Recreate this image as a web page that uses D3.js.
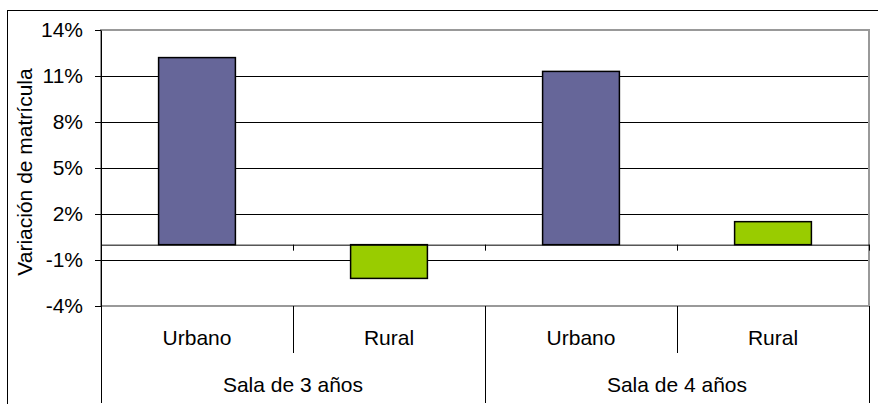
<!DOCTYPE html>
<html>
<head>
<meta charset="utf-8">
<script src="https://cdn.jsdelivr.net/npm/d3@7"></script>
<style>
  body { margin: 0; background: #fff; }
  svg { display: block; font-family: Arial, "Liberation Sans", sans-serif; }
</style>
</head>
<body>
<svg id="chart"></svg>
<script>
// data (values in %)
const groups = ["Sala de 3 años", "Sala de 4 años"];
const areas = ["Urbano", "Rural"];
const urbano = [12.2, 11.3];
const rural = [-2.2, 1.5];
const yTicks = [-4, -1, 2, 5, 8, 11, 14];
const yTitle = "Variación de matrícula";

(function () {
    const W = 878, H = 404;
    const PLOT = { left: 101, right: 869, top: 30, bottom: 306 };
    const CAT_MID = 353;   // short dividers (Urbano | Rural)
    const CAT_END = 403;   // long dividers (groups)
    const FONT = 21;
    const COLORS = { Urbano: '#666699', Rural: '#99cc00' };

    const svg = d3.select('#chart').attr('width', W).attr('height', H);

    // outer chart frame (runs off the right/bottom edge)
    svg.append('rect')
        .attr('x', 7.5).attr('y', 10.5)
        .attr('width', 880).attr('height', 410)
        .attr('fill', '#fff').attr('stroke', '#000').attr('stroke-width', 1);

    const rows = groups.flatMap((g, i) => [
        { group: g, area: areas[0], value: urbano[i] },
        { group: g, area: areas[1], value: rural[i] }
    ]);
    const keyOf = d => d.group + '|' + d.area;

    const y = d3.scaleLinear().domain([-4, 14]).range([PLOT.bottom, PLOT.top]);
    const slot = d3.scaleBand().domain(rows.map(keyOf)).range([PLOT.left, PLOT.right]);
    const x = d3.scaleBand().domain(rows.map(keyOf)).range([PLOT.left, PLOT.right])
        .paddingInner(0.6).paddingOuter(0.3);
    const g = d3.scaleBand().domain(groups).range([PLOT.left, PLOT.right]);
    const edge = d3.scaleLinear().domain([0, rows.length]).range([PLOT.left, PLOT.right]);

    // inner gridlines (black)
    svg.append('g')
        .attr('transform', `translate(${PLOT.left},0)`)
        .call(d3.axisLeft(y)
            .tickValues(yTicks.filter(v => v > -4 && v < 14))
            .tickSize(-(PLOT.right - PLOT.left))
            .tickFormat(''))
        .call(s => s.select('.domain').remove())
        .call(s => s.selectAll('line').attr('stroke', '#000'));

    // plot area border (gray)
    svg.append('rect')
        .attr('x', PLOT.left).attr('y', PLOT.top)
        .attr('width', PLOT.right - PLOT.left).attr('height', PLOT.bottom - PLOT.top)
        .attr('fill', 'none').attr('stroke', '#999').attr('stroke-width', 2);

    // bars
    svg.append('g').selectAll('rect')
        .data(rows)
        .join('rect')
        .attr('x', d => x(keyOf(d)))
        .attr('width', x.bandwidth())
        .attr('y', d => y(Math.max(0, d.value)))
        .attr('height', d => Math.abs(y(d.value) - y(0)))
        .attr('fill', d => COLORS[d.area])
        .attr('stroke', '#000')
        .attr('stroke-width', 1.5);

    // value axis
    svg.append('g')
        .attr('transform', `translate(${PLOT.left},0)`)
        .call(d3.axisLeft(y)
            .tickValues(yTicks)
            .tickSize(6)
            .tickSizeOuter(0)
            .tickPadding(12)
            .tickFormat(d => d + '%'))
        .attr('font-family', null)
        .attr('font-size', FONT)
        .call(s => s.select('.domain').attr('stroke', '#000'))
        .call(s => s.selectAll('line').attr('stroke', '#000'))
        .call(s => s.selectAll('text').attr('fill', '#000'));

    // category axis at zero, ticks at slot edges
    svg.append('g')
        .attr('transform', `translate(0,${y(0)})`)
        .call(d3.axisBottom(edge)
            .tickValues(d3.range(rows.length + 1))
            .tickSize(6)
            .tickSizeOuter(0)
            .tickFormat(''))
        .call(s => s.selectAll('line, .domain').attr('stroke', '#000'));

    // category table below the plot
    const table = svg.append('g').attr('stroke', '#000').attr('shape-rendering', 'crispEdges');
    rows.forEach((d, i) => {
        const x0 = slot(keyOf(d));
        const long = i % areas.length === 0;
        table.append('line')
            .attr('x1', x0 + 0.5).attr('x2', x0 + 0.5)
            .attr('y1', PLOT.bottom).attr('y2', long ? CAT_END : CAT_MID);
    });
    table.append('line')
        .attr('x1', PLOT.right + 0.5).attr('x2', PLOT.right + 0.5)
        .attr('y1', PLOT.bottom).attr('y2', CAT_END);

    svg.append('g').selectAll('text.area')
        .data(rows)
        .join('text')
        .attr('class', 'area')
        .attr('x', d => slot(keyOf(d)) + slot.bandwidth() / 2)
        .attr('y', 345)
        .attr('text-anchor', 'middle')
        .attr('font-size', FONT)
        .text(d => d.area);

    svg.append('g').selectAll('text.group')
        .data(groups)
        .join('text')
        .attr('class', 'group')
        .attr('x', d => g(d) + g.bandwidth() / 2)
        .attr('y', 392)
        .attr('text-anchor', 'middle')
        .attr('font-size', FONT)
        .text(d => d);

    // axis title
    svg.append('text')
        .attr('transform', `translate(32,${(PLOT.top + PLOT.bottom) / 2 + 4}) rotate(-90)`)
        .attr('text-anchor', 'middle')
        .attr('font-size', FONT)
        .text(yTitle);
})();
</script>
</body>
</html>
